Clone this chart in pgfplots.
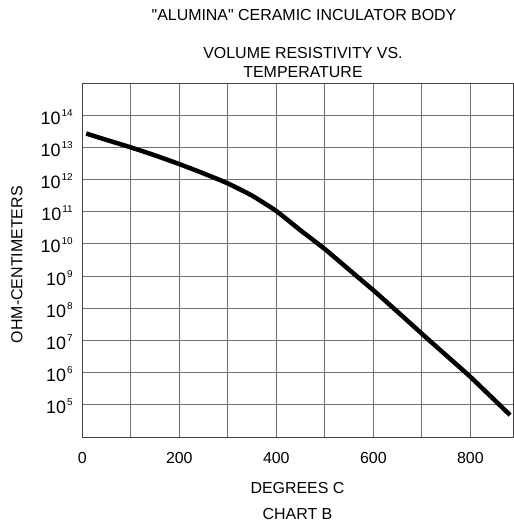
\documentclass[border=0pt]{standalone}
\usepackage{pgfplots}
\pgfplotsset{compat=1.18}
\usepackage{fontspec}
\setmainfont{Liberation Sans}
\newfontfamily\plainq{Liberation Sans}
\definecolor{gridc}{HTML}{707070}
\definecolor{framec}{HTML}{4A4040}
\newcommand{\tl}[1]{\fontsize{18}{18}\selectfont 10\kern1.2bp\raisebox{8bp}{\fontsize{10}{10}\selectfont #1}}
\begin{document}
\begin{tikzpicture}[x=1bp,y=1bp]
\path (0,0) rectangle (514,523);
\begin{axis}[
  at={(82.3bp,86bp)}, anchor=south west,
  scale only axis,
  width=430.7bp, height=354bp,
  xmin=0, xmax=888,
  ymode=log, ymin=1e4, ymax=1e15,
  xtick={0,200,400,600,800},
  minor xtick={100,300,500,700},
  ytick={1e5,1e6,1e7,1e8,1e9,1e10,1e11,1e12,1e13,1e14},
  yticklabels={\tl{5},\tl{6},\tl{7},\tl{8},\tl{9},\tl{10},\tl{11},\tl{12},\tl{13},\tl{14}},
  yminorticks=false,
  major tick length=0pt, minor tick length=0pt,
  xmajorgrids, xminorgrids, ymajorgrids,
  grid style={gridc, line width=0.8bp},
  minor grid style={gridc, line width=0.8bp},
  axis line style={framec, line width=0.9bp},
  /pgf/number format/assume math mode=true,
  xticklabel style={font=\fontsize{16}{16}\selectfont, yshift=-12bp},
  yticklabel style={anchor=base east, xshift=-6bp, yshift=-9bp},
  clip=true,
]
\addplot[black, line width=4.5bp, smooth, tension=0.3] coordinates {
(8,2.69e13) (50,1.70e13) (100,1.0e13) (150,5.62e12) (200,3.02e12)
(250,1.55e12) (300,7.59e11) (350,3.16e11) (400,1.05e11) (450,2.63e10)
(500,6.92e9) (550,1.58e9) (600,3.63e8) (650,7.76e7) (700,1.62e7)
(750,3.47e6) (800,7.41e5) (882,4.79e4)
};
\end{axis}
\begin{scope}[font=\fontsize{16}{18}\selectfont]
\node at (304,523-15.5) {{\plainq"}ALUMINA{\plainq"} CERAMIC INCULATOR BODY};
\node at (303,523-53) {VOLUME RESISTIVITY VS.};
\node at (303,523-72.5) {TEMPERATURE};
\node at (297.5,523-488) {DEGREES C};
\node at (297.5,523-514) {CHART B};
\node[rotate=90] at (17,523-264.7) {OHM-CENTIMETERS};
\end{scope}
\end{tikzpicture}
\end{document}
